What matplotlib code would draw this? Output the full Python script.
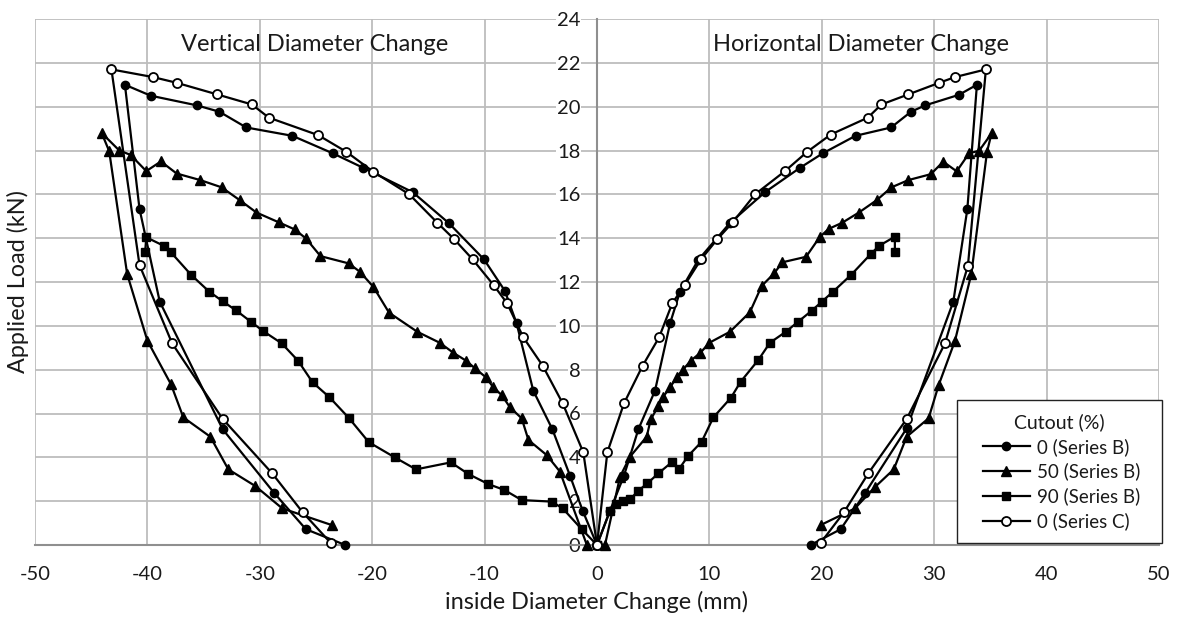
import matplotlib
matplotlib.use("Agg")
import matplotlib.pyplot as plt
from matplotlib.lines import Line2D
from matplotlib.legend_handler import HandlerLine2D

# ---------------- data ----------------
# Cutout 0 % (Series B)
b0_vert_x = [0, -1.28, -2.4, -3.97, -5.67, -7.15, -8.2, -10.05, -13.17, -16.4, -20.8, -23.5,
             -27.1, -31.2, -33.6, -35.6, -39.7, -42.0, -40.7, -38.9, -33.3, -28.7, -25.9, -22.4]
b0_vert_y = [0, 1.57, 3.16, 5.28, 7.04, 10.11, 11.6, 13.03, 14.68, 16.1, 17.21, 17.87,
             18.67, 19.05, 19.77, 20.06, 20.5, 21.0, 15.33, 11.1, 5.28, 2.36, 0.72, 0.0]
b0_horz_x = [0, 1.16, 2.4, 3.68, 5.16, 6.5, 7.38, 9.0, 11.8, 14.95, 18.06, 20.08,
             23.0, 26.16, 27.94, 29.2, 32.2, 33.8, 32.95, 31.7, 27.55, 23.84, 21.68, 19.0]
b0_horz_y = [0, 1.57, 3.16, 5.28, 7.04, 10.11, 11.56, 13.0, 14.68, 16.1, 17.21, 17.87,
             18.67, 19.05, 19.77, 20.06, 20.54, 21.0, 15.33, 11.1, 5.32, 2.36, 0.72, 0.0]

# Cutout 50 % (Series B)
b50_vert_x = [-0.9, -3.3, -4.47, -6.1, -6.7, -7.74, -8.48, -9.22, -9.88, -10.85,
              -11.65, -12.78, -14.0, -15.99, -18.5, -19.9, -21.1, -22.1, -24.6, -25.9,
              -26.9, -28.3, -30.3, -31.8, -33.4, -35.3, -37.4, -38.8, -40.1, -41.5,
              -42.5, -44.07, -43.4, -41.8, -40.0, -37.9, -36.8, -34.4, -32.8, -30.4,
              -28.0, -23.6]
b50_vert_y = [0, 3.35, 4.1, 4.79, 5.78, 6.28, 6.84, 7.19, 7.65, 8.06,
              8.41, 8.77, 9.23, 9.73, 10.6, 11.78, 12.47, 12.85, 13.18, 13.99,
              14.4, 14.72, 15.17, 15.74, 16.32, 16.65, 16.95, 17.5, 17.06, 17.8,
              18.0, 18.8, 17.97, 12.36, 9.32, 7.33, 5.82, 4.94, 3.45, 2.69,
              1.67, 0.91]
b50_horz_x = [0.71, 2.05, 2.94, 4.42, 4.78, 5.46, 5.9, 6.5, 7.09, 7.62,
              8.34, 9.2, 10.0, 11.83, 13.6, 14.65, 15.75, 16.5, 18.6, 19.8,
              20.6, 21.8, 23.3, 24.9, 26.2, 27.7, 29.7, 30.8, 32.0, 33.1,
              34.0, 35.1, 34.7, 33.3, 31.85, 30.4, 29.5, 27.55, 26.4, 24.7,
              22.95, 19.9]
b50_horz_y = [0, 3.12, 4.03, 4.94, 5.73, 6.34, 6.77, 7.19, 7.65, 7.98,
              8.41, 8.77, 9.23, 9.73, 10.62, 11.82, 12.39, 12.9, 13.15, 14.04,
              14.42, 14.7, 15.17, 15.74, 16.32, 16.65, 16.92, 17.49, 17.05, 17.87,
              17.99, 18.78, 17.94, 12.36, 9.32, 7.3, 5.78, 4.94, 3.45, 2.63,
              1.67, 0.91]

# Cutout 90 % (Series B)
b90_vert_x = [0, -1.36, -3.05, -4.03, -6.7, -8.24, -9.67, -11.45, -13.0, -16.1,
              -18.0, -20.3, -22.1, -23.8, -25.3, -26.6, -28.05, -29.7, -30.8, -32.1,
              -33.3, -34.5, -36.1, -37.9, -38.5, -40.1, -40.2]
b90_vert_y = [0, 0.72, 1.67, 1.98, 2.05, 2.51, 2.78, 3.24, 3.77, 3.45,
              4.0, 4.69, 5.81, 6.74, 7.42, 8.41, 9.2, 9.76, 10.19, 10.7,
              11.12, 11.56, 12.32, 13.35, 13.64, 14.04, 13.38]
b90_horz_x = [0, 1.16, 1.69, 2.28, 2.94, 3.68, 4.48, 5.46, 6.64, 7.3,
              8.12, 9.31, 10.35, 11.92, 12.78, 14.35, 15.39, 16.8, 17.9, 19.1,
              20.0, 21.0, 22.6, 24.4, 25.1, 26.5, 26.5]
b90_horz_y = [0, 1.57, 1.87, 2.02, 2.08, 2.48, 2.81, 3.27, 3.77, 3.47,
              4.07, 4.71, 5.82, 6.72, 7.45, 8.44, 9.23, 9.73, 10.19, 10.69,
              11.1, 11.56, 12.32, 13.3, 13.65, 14.07, 13.38]

# Cutout 0 % (Series C)
c0_vert_x = [0, -1.22, -3.05, -4.83, -6.55, -8.0, -9.2, -11.06, -12.7, -14.2,
             -16.7, -19.9, -22.3, -24.8, -29.2, -30.7, -33.8, -37.4, -39.5, -43.2,
             -40.7, -37.8, -33.3, -28.9, -26.2, -23.7]
c0_vert_y = [0, 4.23, 6.46, 8.18, 9.47, 11.03, 11.86, 13.03, 13.95, 14.7,
             16.0, 17.03, 17.94, 18.7, 19.5, 20.1, 20.56, 21.09, 21.35, 21.7,
             12.77, 9.2, 5.75, 3.27, 1.5, 0.1]
c0_horz_x = [0, 0.92, 2.4, 4.06, 5.52, 6.7, 7.8, 9.25, 10.7, 12.07,
             14.06, 16.7, 18.7, 20.8, 24.1, 25.3, 27.7, 30.45, 31.85, 34.6,
             33.0, 30.96, 27.55, 24.14, 21.98, 19.9]
c0_horz_y = [0, 4.23, 6.46, 8.18, 9.47, 11.03, 11.86, 13.03, 13.95, 14.72,
             16.0, 17.05, 17.94, 18.73, 19.5, 20.1, 20.56, 21.09, 21.35, 21.7,
             12.74, 9.2, 5.75, 3.27, 1.5, 0.1]

series_labels = ["0 (Series B)", "50 (Series B)", "90 (Series B)", "0 (Series C)"]
x_ticks = [-50, -40, -30, -20, -10, 0, 10, 20, 30, 40, 50]
y_ticks = [0, 2, 4, 6, 8, 10, 12, 14, 16, 18, 20, 22, 24]

# ---------------- plot ----------------
plt.rcParams['font.family'] = ['Lato', 'DejaVu Sans']
txt_color = '#1a1a1a'

fig = plt.figure(figsize=(11.77, 6.18), dpi=100)
ax = fig.add_axes([35 / 1177, 1 - 545 / 618, (1159 - 35) / 1177, (545 - 19) / 618])

ax.set_xlim(-50, 50)
ax.set_ylim(0, 24)
ax.set_xticks(x_ticks)
ax.set_yticks(y_ticks)
ax.set_xticklabels([str(v) for v in x_ticks])
ax.set_yticklabels([str(v) for v in y_ticks])

ax.set_axisbelow(True)
ax.grid(True, color='#bdbdbd', linewidth=1.3, zorder=0)

for s in ['top', 'right']:
    ax.spines[s].set_visible(False)
ax.spines['left'].set_position(('data', 0))
for s in ['left', 'bottom']:
    ax.spines[s].set_color('#8f8f8f')
    ax.spines[s].set_linewidth(1.5)
    ax.spines[s].set_zorder(0.6)

ax.tick_params(axis='both', length=0, labelsize=14.5, colors=txt_color)
ax.tick_params(axis='x', pad=15)
ax.tick_params(axis='y', pad=12)
for lab in ax.get_yticklabels():
    lab.set_bbox(dict(facecolor='white', edgecolor='none', pad=0.5))

lw = 1.6
styles = [
    dict(marker='o', markersize=6, markerfacecolor='black', markeredgecolor='black'),
    dict(marker='^', markersize=7, markerfacecolor='black', markeredgecolor='black'),
    dict(marker='s', markersize=6, markerfacecolor='black', markeredgecolor='black'),
    dict(marker='o', markersize=6.5, markerfacecolor='white', markeredgecolor='black',
         markeredgewidth=1.3),
]
data = [
    (b0_vert_x, b0_vert_y, b0_horz_x, b0_horz_y),
    (b50_vert_x, b50_vert_y, b50_horz_x, b50_horz_y),
    (b90_vert_x, b90_vert_y, b90_horz_x, b90_horz_y),
    (c0_vert_x, c0_vert_y, c0_horz_x, c0_horz_y),
]
handles = []
for (vx, vy, hx, hy), st, lab in zip(data, styles, series_labels):
    h, = ax.plot(vx, vy, color='black', linewidth=lw, label=lab, zorder=3,
                 clip_on=False, **st)
    ax.plot(hx, hy, color='black', linewidth=lw, zorder=3, clip_on=False, **st)
    handles.append(h)

ax.text(-25.1, 22.85, "Vertical Diameter Change", fontsize=17, ha='center',
        va='center', color=txt_color)
ax.text(23.5, 22.85, "Horizontal Diameter Change", fontsize=17, ha='center',
        va='center', color=txt_color)

ax.set_xlabel("inside Diameter Change (mm)", fontsize=16.8, labelpad=6, color=txt_color)
fig.text(18 / 1177, 1 - 282 / 618, "Applied Load (kN)", rotation=90, fontsize=16.8,
         ha='center', va='center', color=txt_color)

leg_fs = 13.5
leg = ax.legend(handles=handles, title="Cutout (%)", loc='lower left',
                bbox_to_anchor=(0.8203, 0.0038, 0.1824, 0.0), mode='expand',
                borderaxespad=0, fontsize=leg_fs, title_fontsize=14,
                frameon=True, fancybox=False, framealpha=1,
                edgecolor='#222222', handlelength=3.2, handletextpad=0.37,
                labelspacing=0.37, borderpad=0.68,
                handler_map={Line2D: HandlerLine2D(xpad=0.7)})
leg.get_frame().set_linewidth(1.0)
for t in leg.get_texts():
    t.set_color(txt_color)
leg.get_title().set_color(txt_color)
leg.set_zorder(5)

fig.savefig("out.png", dpi=100, facecolor='white')
